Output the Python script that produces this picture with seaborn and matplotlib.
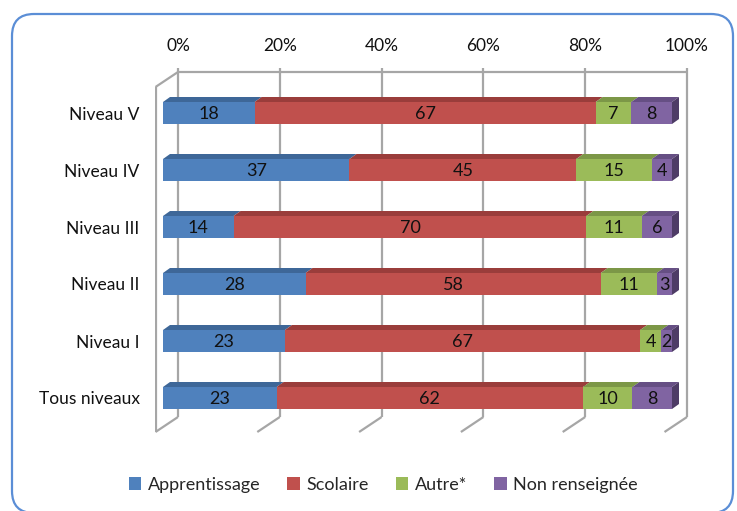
import numpy as np
import pandas as pd
import matplotlib
matplotlib.use("Agg")
import matplotlib.pyplot as plt
from matplotlib.patches import Polygon, Patch, FancyBboxPatch
from matplotlib.transforms import IdentityTransform
import seaborn as sns

# data (printed percentages, bars are 100% stacked)
niveaux = ["Niveau V", "Niveau IV", "Niveau III", "Niveau II", "Niveau I", "Tous niveaux"]
apprentissage = [18, 37, 14, 28, 23, 23]
scolaire = [67, 45, 70, 58, 67, 62]
autre = [7, 15, 11, 11, 4, 10]
non_renseignee = [8, 4, 6, 3, 2, 8]
series_names = ["Apprentissage", "Scolaire", "Autre*", "Non renseignée"]
tick_values = [0, 20, 40, 60, 80, 100]

colors = ["#4F81BD", "#C0504D", "#9BBB59", "#8064A2"]
top_colors = ["#3E6798", "#9A3D3B", "#7C9747", "#664F84"]
side_color = "#4E3C66"
grid_color = "#A6A6A6"

sns.set_style("white")
plt.rcParams["font.family"] = ["Lato", "DejaVu Sans"]

W, H = 737, 511
fig = plt.figure(figsize=(W / 100, H / 100), dpi=100)

# axes box in pixels (left, top, right, bottom) -> figure fractions
L, T, R, B = 155, 68, 690, 434
ax = fig.add_axes([L / W, 1 - B / H, (R - L) / W, (B - T) / H])
ax.set_facecolor("none")

df = pd.DataFrame({"niveau": niveaux, "Apprentissage": apprentissage, "Scolaire": scolaire,
                   "Autre*": autre, "Non renseignée": non_renseignee})
vals = df[series_names].to_numpy(dtype=float)
shares = vals / vals.sum(axis=1, keepdims=True) * 100
cum = np.cumsum(shares, axis=1)
for j, name in enumerate(series_names):
    df["cum_" + name] = cum[:, j]

BAR_H = 0.386
# draw cumulative bars, longest first so shorter ones sit on top
for j in range(len(series_names) - 1, -1, -1):
    sns.barplot(data=df, x="cum_" + series_names[j], y="niveau", orient="h",
                color=colors[j], saturation=1, width=BAR_H, errorbar=None,
                linewidth=0, ax=ax, zorder=3)

# pixel scale of the plot
sx, sy = 5.09, 57.0
ax.set_xlim((L - 163) / sx, (R - 163) / sx)
ax.set_ylim((B - 113) / sy, (T - 113) / sy)

# pseudo 3d frame (Excel style)
BACK_DX = 15 / sx
DEPTH_X = 22.5 / sx
DEPTH_Y = 15 / sy
back_top, back_bot = (72 - 113) / sy, (417 - 113) / sy
front_left = BACK_DX - DEPTH_X
lkw = dict(color=grid_color, lw=1.6, zorder=1, solid_capstyle="butt")
for g in tick_values:
    gx = g + BACK_DX
    ax.plot([gx, gx], [back_top - 5 / sy, back_bot], **lkw)
    ax.plot([gx, gx - DEPTH_X], [back_bot, back_bot + DEPTH_Y], **lkw)
ax.plot([BACK_DX, 100 + BACK_DX], [back_top, back_top], **lkw)
ax.plot([front_left, front_left], [back_top + DEPTH_Y, back_bot + DEPTH_Y], **lkw)
ax.plot([front_left, BACK_DX], [back_top + DEPTH_Y, back_top], **lkw)
for i in range(len(niveaux) - 1):
    ty = i + 0.58
    ax.plot([front_left - 4 / sx, front_left], [ty, ty], **lkw)

# top and side faces + labels
TOP_DX, TOP_DY = 7 / sx, 5 / sy
for i in range(len(niveaux)):
    top = i - BAR_H / 2
    bot = i + BAR_H / 2
    left = 0.0
    for j in range(len(series_names)):
        right = cum[i, j]
        ax.add_patch(Polygon([(left, top), (right, top), (right + TOP_DX, top - TOP_DY),
                              (left + TOP_DX, top - TOP_DY)], closed=True,
                             facecolor=top_colors[j], edgecolor="none", zorder=4))
        ax.text((left + right) / 2, i + 0.02, str(int(vals[i, j])), ha="center", va="center",
                fontsize=13, color="#111111", zorder=6)
        left = right
    ax.add_patch(Polygon([(100, top), (100 + TOP_DX, top - TOP_DY), (100 + TOP_DX, bot - TOP_DY),
                          (100, bot)], closed=True, facecolor=side_color, edgecolor="none", zorder=4))

ax.xaxis.tick_top()
ax.set_xticks([g + BACK_DX for g in tick_values], [f"{g}%" for g in tick_values])
ax.set_yticks(range(len(niveaux)), niveaux)
ax.tick_params(axis="x", length=0, pad=10, labelsize=12.5, labelcolor="#111111")
ax.tick_params(axis="y", length=0, pad=11, labelsize=12.5, labelcolor="#111111")
ax.set_xlabel("")
ax.set_ylabel("")
for s in ax.spines.values():
    s.set_visible(False)

handles = [Patch(facecolor=c, edgecolor="none") for c in colors]
fig.legend(handles, series_names, loc="center", bbox_to_anchor=(383 / W, 1 - 485 / H),
           ncol=4, frameon=False, fontsize=13, handlelength=0.7, handleheight=0.7,
           handletextpad=0.35, columnspacing=1.5)

# rounded blue frame around the chart
box = FancyBboxPatch((12, -2), 721, 499, boxstyle="round,pad=0,rounding_size=22",
                     transform=IdentityTransform(), facecolor="none", edgecolor="#5B8ED6",
                     lw=1.6)
fig.patches.append(box)

fig.savefig("out.png", dpi=100)
